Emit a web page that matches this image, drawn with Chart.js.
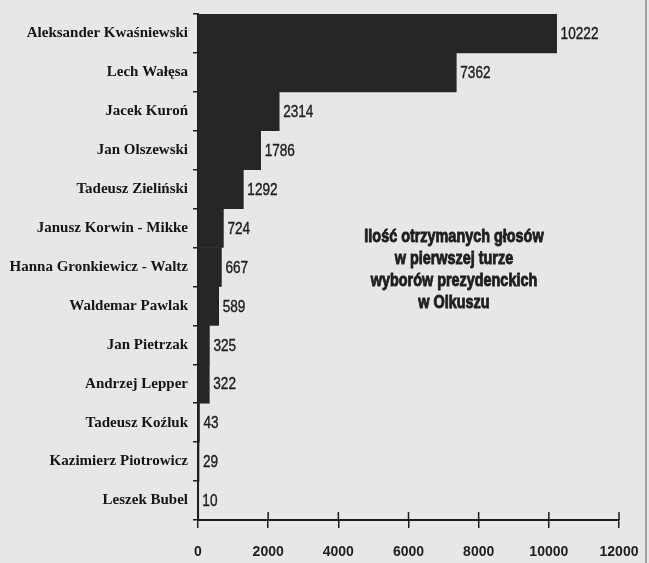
<!DOCTYPE html>
<html><head><meta charset="utf-8">
<script src="https://cdn.jsdelivr.net/npm/chart.js@4"></script>
<style>html,body{margin:0;padding:0;background:#e7e7e7;}</style>
</head><body>
<canvas id="c" width="649" height="563"></canvas>
<script>
const categories = [
  "Aleksander Kwaśniewski", "Lech Wałęsa", "Jacek Kuroń", "Jan Olszewski",
  "Tadeusz Zieliński", "Janusz Korwin - Mikke", "Hanna Gronkiewicz - Waltz",
  "Waldemar Pawlak", "Jan Pietrzak", "Andrzej Lepper", "Tadeusz Koźluk",
  "Kazimierz Piotrowicz", "Leszek Bubel"
];
const votes = [10222, 7362, 2314, 1786, 1292, 724, 667, 589, 325, 322, 43, 29, 10];
const xTicks = [0, 2000, 4000, 6000, 8000, 10000, 12000];
const titleLines = ["Ilość otrzymanych głosów", "w pierwszej turze", "wyborów prezydenckich", "w Olkuszu"];

const ink = '#1e1e1e';
const narrow = 0.8;

const bgPlugin = {
  id: 'bg',
  beforeDraw(chart) {
    const ctx = chart.ctx;
    ctx.save();
    ctx.fillStyle = '#e7e7e7';
    ctx.fillRect(0, 0, chart.width, chart.height);
    ctx.strokeStyle = '#8a8a8a';
    ctx.lineWidth = 1.5;
    ctx.beginPath();
    ctx.moveTo(chart.width - 3, 0);
    ctx.lineTo(chart.width - 3, chart.height);
    ctx.stroke();
    ctx.restore();
  }
};

function narrowText(ctx, text, x, y, strokeW) {
  ctx.save();
  ctx.translate(x, y);
  ctx.scale(narrow, 1);
  ctx.fillText(text, 0, 0);
  if (strokeW) {
    ctx.lineWidth = strokeW;
    ctx.strokeStyle = ctx.fillStyle;
    ctx.strokeText(text, 0, 0);
  }
  ctx.restore();
}

const valuePlugin = {
  id: 'values',
  afterDatasetsDraw(chart) {
    const ctx = chart.ctx;
    const meta = chart.getDatasetMeta(0);
    ctx.save();
    ctx.font = '17px "Liberation Sans", Arial, sans-serif';
    ctx.fillStyle = ink;
    ctx.textAlign = 'left';
    ctx.textBaseline = 'middle';
    meta.data.forEach((bar, i) => {
      narrowText(ctx, String(votes[i]), bar.x + 4, bar.y + 1, 0.4);
    });
    ctx.restore();
  }
};

const axisPlugin = {
  id: 'axisTicks',
  afterDraw(chart) {
    const ctx = chart.ctx;
    const xs = chart.scales.x;
    const ca = chart.chartArea;
    ctx.save();
    ctx.strokeStyle = ink;
    ctx.lineWidth = 1.5;
    xs.ticks.forEach(t => {
      const px = xs.getPixelForValue(t.value);
      ctx.beginPath();
      ctx.moveTo(px, ca.bottom - 8);
      ctx.lineTo(px, ca.bottom);
      ctx.stroke();
    });
    ctx.fillStyle = ink;
    ctx.font = 'bold 18px "Liberation Sans", Arial, sans-serif';
    ctx.textAlign = 'center';
    ctx.textBaseline = 'middle';
    const cx = ca.left + (ca.right - ca.left) * 0.608;
    const cy0 = ca.top + (ca.bottom - ca.top) * 0.441;
    titleLines.forEach((l, i) => narrowText(ctx, l, cx, cy0 + i * 21.8, 0.9));
    ctx.restore();
  }
};

new Chart(document.getElementById('c'), {
  type: 'bar',
  data: {
    labels: categories,
    datasets: [{
      data: votes,
      backgroundColor: '#262626',
      borderWidth: 0,
      barPercentage: 1,
      categoryPercentage: 1
    }]
  },
  options: {
    indexAxis: 'y',
    responsive: false,
    animation: false,
    layout: { padding: { top: 10, right: 30, left: 0, bottom: 0 } },
    plugins: { legend: { display: false }, tooltip: { enabled: false } },
    scales: {
      x: {
        type: 'linear',
        min: xTicks[0],
        max: xTicks[xTicks.length - 1],
        afterBuildTicks(scale) { scale.ticks = xTicks.map(v => ({ value: v })); },
        afterFit(scale) { scale.height = 43; scale.paddingLeft = 0; scale.paddingRight = 0; },
        ticks: {
          color: ink,
          padding: 16,
          font: { family: '"Liberation Sans", Arial, sans-serif', size: 14, weight: 'bold' },
          callback: v => String(v)
        },
        grid: { drawOnChartArea: false, drawTicks: true, tickLength: 8, color: ink, lineWidth: 1.5 },
        border: { color: ink, width: 2 }
      },
      y: {
        afterFit(scale) { scale.width = 198; },
        ticks: {
          color: '#151515',
          padding: 5,
          font: { family: '"Liberation Serif", "Times New Roman", serif', size: 15, weight: 'bold' }
        },
        grid: { drawOnChartArea: false, drawTicks: true, tickLength: 5, color: ink, lineWidth: 1.5, offset: true },
        border: { color: ink, width: 2 }
      }
    }
  },
  plugins: [bgPlugin, valuePlugin, axisPlugin]
});
</script>
</body></html>
